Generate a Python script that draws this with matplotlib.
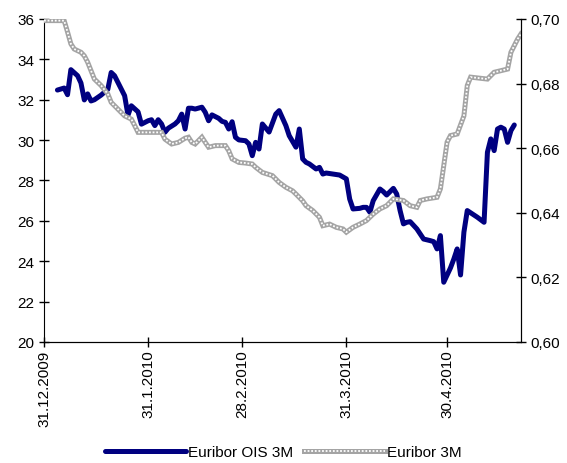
import matplotlib
matplotlib.use("Agg")
import matplotlib.pyplot as plt
from matplotlib.legend_handler import HandlerTuple
import pandas as pd

plt.rcParams["font.family"] = ["Liberation Sans", "DejaVu Sans"]

# Euribor OIS 3M (left axis)
ois_dates = [
    "2010-01-04", "2010-01-06", "2010-01-07", "2010-01-08", "2010-01-10", "2010-01-11",
    "2010-01-12", "2010-01-13", "2010-01-14", "2010-01-15", "2010-01-17", "2010-01-19",
    "2010-01-20", "2010-01-21", "2010-01-22", "2010-01-24", "2010-01-25", "2010-01-26",
    "2010-01-28", "2010-01-29", "2010-01-31", "2010-02-01", "2010-02-02", "2010-02-03",
    "2010-02-04", "2010-02-05", "2010-02-06", "2010-02-08", "2010-02-09", "2010-02-10",
    "2010-02-11", "2010-02-12", "2010-02-13", "2010-02-14", "2010-02-16", "2010-02-17",
    "2010-02-18", "2010-02-19", "2010-02-21", "2010-02-22", "2010-02-23", "2010-02-24",
    "2010-02-25", "2010-02-26", "2010-02-27", "2010-03-01", "2010-03-02", "2010-03-03",
    "2010-03-04", "2010-03-05", "2010-03-06", "2010-03-08", "2010-03-10", "2010-03-11",
    "2010-03-13", "2010-03-14", "2010-03-16", "2010-03-17", "2010-03-18", "2010-03-19",
    "2010-03-20", "2010-03-22", "2010-03-23", "2010-03-24", "2010-03-25", "2010-03-27",
    "2010-03-29", "2010-03-31", "2010-04-01", "2010-04-02", "2010-04-04", "2010-04-05",
    "2010-04-06", "2010-04-07", "2010-04-08", "2010-04-10", "2010-04-11", "2010-04-12",
    "2010-04-14", "2010-04-15", "2010-04-16", "2010-04-17", "2010-04-18", "2010-04-19",
    "2010-04-21", "2010-04-23", "2010-04-25", "2010-04-26", "2010-04-27", "2010-04-28",
    "2010-04-29", "2010-05-01", "2010-05-02", "2010-05-03", "2010-05-04", "2010-05-05",
    "2010-05-06", "2010-05-09", "2010-05-11", "2010-05-12", "2010-05-13", "2010-05-14",
    "2010-05-15", "2010-05-16", "2010-05-17", "2010-05-18", "2010-05-19", "2010-05-20",
]
ois_values = [
    32.48, 32.58, 32.25, 33.49, 33.19, 32.83, 31.99, 32.29, 31.94, 32.00, 32.23, 32.52,
    33.35, 33.19, 32.86, 32.20, 31.24, 31.70, 31.40, 30.79, 30.96, 31.01, 30.72, 31.01,
    30.80, 30.39, 30.59, 30.80, 30.96, 31.29, 30.55, 31.58, 31.58, 31.54, 31.63, 31.38,
    30.96, 31.25, 31.08, 30.93, 30.88, 30.55, 30.91, 30.14, 30.01, 29.97, 29.81, 29.23,
    29.89, 29.56, 30.80, 30.40, 31.29, 31.46, 30.72, 30.22, 29.65, 30.55, 29.07, 28.90,
    28.82, 28.57, 28.65, 28.32, 28.37, 28.32, 28.27, 28.08, 27.08, 26.59, 26.62, 26.67,
    26.67, 26.43, 27.00, 27.58, 27.45, 27.28, 27.61, 27.33, 26.51, 25.85, 25.93, 25.96,
    25.60, 25.10, 25.02, 24.97, 24.61, 25.27, 22.96, 23.67, 24.11, 24.61, 23.32, 25.44,
    26.51, 26.18, 25.93, 29.40, 30.06, 29.48, 30.55, 30.64, 30.55, 29.89, 30.47, 30.75,
]

# Euribor 3M (right axis)
euribor_dates = [
    "2009-12-31", "2010-01-06", "2010-01-07", "2010-01-08", "2010-01-09", "2010-01-11",
    "2010-01-12", "2010-01-13", "2010-01-14", "2010-01-15", "2010-01-17", "2010-01-19",
    "2010-01-20", "2010-01-22", "2010-01-24", "2010-01-26", "2010-01-27", "2010-01-28",
    "2010-01-29", "2010-02-04", "2010-02-05", "2010-02-07", "2010-02-09", "2010-02-11",
    "2010-02-12", "2010-02-13", "2010-02-14", "2010-02-16", "2010-02-17", "2010-02-18",
    "2010-02-20", "2010-02-23", "2010-02-24", "2010-02-25", "2010-02-27", "2010-03-01",
    "2010-03-03", "2010-03-04", "2010-03-06", "2010-03-09", "2010-03-11", "2010-03-13",
    "2010-03-15", "2010-03-16", "2010-03-18", "2010-03-19", "2010-03-21", "2010-03-23",
    "2010-03-24", "2010-03-26", "2010-03-28", "2010-03-30", "2010-03-31", "2010-04-02",
    "2010-04-04", "2010-04-06", "2010-04-08", "2010-04-10", "2010-04-12", "2010-04-14",
    "2010-04-17", "2010-04-19", "2010-04-21", "2010-04-22", "2010-04-24", "2010-04-27",
    "2010-04-28", "2010-04-29", "2010-04-30", "2010-05-01", "2010-05-03", "2010-05-05",
    "2010-05-06", "2010-05-07", "2010-05-12", "2010-05-14", "2010-05-18", "2010-05-19",
    "2010-05-21", "2010-05-22",
]
euribor_values = [
    0.6995, 0.6995, 0.6960, 0.6923, 0.6907, 0.6897, 0.6886, 0.6866, 0.6840, 0.6814,
    0.6794, 0.6768, 0.6742, 0.6721, 0.6700, 0.6690, 0.6670, 0.6649, 0.6649, 0.6649,
    0.6628, 0.6613, 0.6618, 0.6631, 0.6634, 0.6618, 0.6613, 0.6634, 0.6618, 0.6603,
    0.6608, 0.6608, 0.6592, 0.6567, 0.6556, 0.6554, 0.6551, 0.6541, 0.6525, 0.6515,
    0.6494, 0.6479, 0.6468, 0.6458, 0.6437, 0.6422, 0.6407, 0.6386, 0.6360, 0.6365,
    0.6355, 0.6350, 0.6340, 0.6355, 0.6365, 0.6376, 0.6396, 0.6412, 0.6422, 0.6443,
    0.6438, 0.6422, 0.6417, 0.6438, 0.6443, 0.6448, 0.6474, 0.6546, 0.6619, 0.6639,
    0.6644, 0.6700, 0.6794, 0.6820, 0.6814, 0.6835, 0.6845, 0.6897, 0.6938, 0.6954,
]

tick_dates = ["2009-12-31", "2010-01-31", "2010-02-28", "2010-03-31", "2010-04-30"]
tick_labels = ["31.12.2009", "31.1.2010", "28.2.2010", "31.3.2010", "30.4.2010"]
left_ticks = [20, 22, 24, 26, 28, 30, 32, 34, 36]
right_ticks = [0.60, 0.62, 0.64, 0.66, 0.68, 0.70]

x_ois = pd.to_datetime(ois_dates)
x_eur = pd.to_datetime(euribor_dates)

fig = plt.figure(figsize=(5.67, 4.64), dpi=100)
ax = fig.add_axes([0.0776, 0.2608, 0.8413, 0.6961])
ax2 = ax.twinx()

blue, = ax.plot(x_ois, ois_values, color="#000080", lw=3.6, solid_capstyle="round",
                solid_joinstyle="round")

# stippled grey line: grey base with white dots on top
grey_base, = ax2.plot(x_eur, euribor_values, color="#a4a4a4", lw=3.6,
                      solid_joinstyle="miter")
grey_dots, = ax2.plot(x_eur, euribor_values, color="white", lw=1.3,
                      linestyle=(0, (1, 1)))

ax.set_xlim(pd.Timestamp("2009-12-31"), pd.Timestamp("2010-05-22"))
ax.set_ylim(20, 36)
ax2.set_ylim(0.60, 0.70)

ax.set_yticks(left_ticks)
ax.set_yticklabels([str(v) for v in left_ticks])
ax2.set_yticks(right_ticks)
ax2.set_yticklabels([f"{v:.2f}".replace(".", ",") for v in right_ticks])
ax.set_xticks(pd.to_datetime(tick_dates))
ax.set_xticklabels(tick_labels, rotation=90)

for a in (ax, ax2):
    a.spines["top"].set_visible(False)
    a.tick_params(direction="inout", length=7, width=1, labelsize=11, colors="black")
ax2.spines["left"].set_visible(False)
ax.tick_params(axis="x", pad=2)

fig.legend(
    [blue, (grey_base, grey_dots)],
    ["Euribor OIS 3M", "Euribor 3M"],
    handler_map={tuple: HandlerTuple(ndivide=1, pad=0)},
    loc="center",
    bbox_to_anchor=(0.5, 0.024),
    ncol=2,
    frameon=False,
    fontsize=11,
    handlelength=5.3,
    handletextpad=0.15,
    columnspacing=0.7,
)

fig.savefig("out.png", dpi=100)
